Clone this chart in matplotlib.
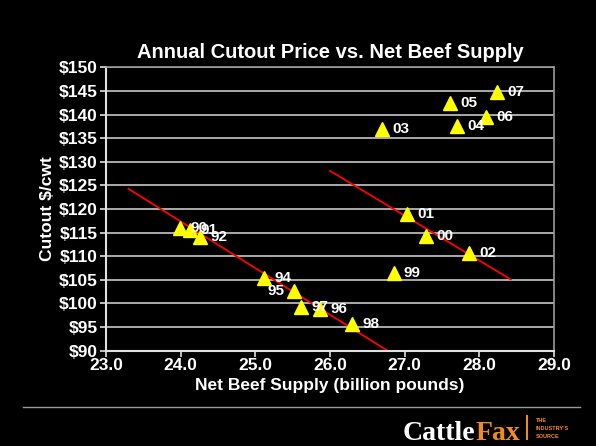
import matplotlib
matplotlib.use("Agg")
import matplotlib.pyplot as plt

# net beef supply (billion lbs) vs annual cutout price ($/cwt)
years = ["90", "91", "92", "94", "95", "96", "97", "98", "99",
         "00", "01", "02", "03", "04", "05", "06", "07"]
supply = [23.99, 24.12, 24.26, 25.12, 25.52, 25.87, 25.61, 26.30, 26.85,
          27.29, 27.03, 27.86, 26.70, 27.70, 27.60, 28.09, 28.24]
cutout = [116.0, 115.6, 114.0, 105.3, 102.6, 98.8, 99.3, 95.7, 106.5,
          114.2, 119.0, 110.8, 136.9, 137.6, 142.4, 139.6, 144.9]

# trend lines (start/end points)
trend1_x = [23.30, 26.77]
trend1_y = [124.3, 90.0]
trend2_x = [26.00, 28.42]
trend2_y = [128.1, 105.1]

xticks = [23, 24, 25, 26, 27, 28, 29]
yticks = list(range(90, 151, 5))

plt.rcParams['font.family'] = ['Liberation Sans', 'DejaVu Sans']

fig = plt.figure(figsize=(5.96, 4.46), dpi=100, facecolor="black")
ax = fig.add_axes([0.1779, 0.2137, 0.7517, 0.635])
ax.set_facecolor("black")

ax.set_xlim(23, 29)
ax.set_ylim(90, 150)
ax.set_xticks(xticks)
ax.set_xticklabels(["%.1f" % v for v in xticks])
ax.set_yticks(yticks)
ax.set_yticklabels(["$%d" % v for v in yticks])

ax.grid(axis="y", color="#c8c8c8", linewidth=1.2)
ax.set_axisbelow(True)
for side in ["left", "bottom"]:
    ax.spines[side].set_color("#e0e0e0")
    ax.spines[side].set_linewidth(1.5)
for side in ["top", "right"]:
    ax.spines[side].set_color("#9a9a9a")
    ax.spines[side].set_linewidth(1.2)

ax.tick_params(colors="#e0e0e0", length=4, width=1.2, direction="out")
for lab in ax.get_xticklabels() + ax.get_yticklabels():
    lab.set_color("white")
    lab.set_fontweight("bold")
    lab.set_fontsize(12.5)
ax.tick_params(axis="x", pad=1)
ax.tick_params(axis="y", pad=2)

ax.plot(trend1_x, trend1_y, color="red", linewidth=1.3, zorder=2)
ax.plot(trend2_x, trend2_y, color="red", linewidth=1.3, zorder=2)

ax.plot(supply, cutout, linestyle="none", marker="^", markersize=10,
        color="#ffff00", markeredgecolor="#ffff00", zorder=3)

# labels sit right of the marker, except 95 which goes left
for yr, sx, cy in zip(years, supply, cutout):
    if yr == "95":
        off, ha = (-7, 0), "right"
    else:
        off, ha = (7.5, 0), "left"
    ax.annotate(yr, (sx, cy), xytext=off, textcoords="offset points",
                ha=ha, va="center", color="white", fontsize=11,
                fontweight="bold", zorder=4)

ax.set_title("Annual Cutout Price vs. Net Beef Supply", color="white",
             fontsize=14.5, fontweight="bold", pad=7)
ax.set_xlabel("Net Beef Supply (billion pounds)", color="white",
              fontsize=12.5, fontweight="bold", labelpad=4)
ax.set_ylabel("Cutout $/cwt", color="white", fontsize=12.5,
              fontweight="bold", labelpad=3)

# footer rule and logo
fig.add_artist(plt.Line2D([23 / 596, 580 / 596], [1 - 407 / 446, 1 - 407 / 446],
                          color="#9a9a9a", linewidth=1))
orange = "#f08a24"
t1 = fig.text(403 / 596, 1 - 440 / 446, "Cattle", color="white",
              fontsize=20, fontweight="bold", family="Liberation Serif",
              va="baseline")
ax.annotate("Fax", xy=(1, 0), xycoords=t1, va="bottom", ha="left",
            color=orange, fontsize=20, fontweight="bold",
            family="Liberation Serif", annotation_clip=False)
fig.add_artist(plt.Line2D([527 / 596, 527 / 596], [1 - 439 / 446, 1 - 416 / 446],
                          color=orange, linewidth=1.5))
fig.text(536 / 596, 1 - 420 / 446, "THE", color=orange, fontsize=4,
         fontweight="bold", va="center")
fig.text(536 / 596, 1 - 428 / 446, "INDUSTRY'S", color=orange, fontsize=4,
         fontweight="bold", va="center")
fig.text(536 / 596, 1 - 437 / 446, "SOURCE", color=orange, fontsize=4,
         fontweight="bold", va="center")

fig.savefig("out.png", dpi=100, facecolor="black")
